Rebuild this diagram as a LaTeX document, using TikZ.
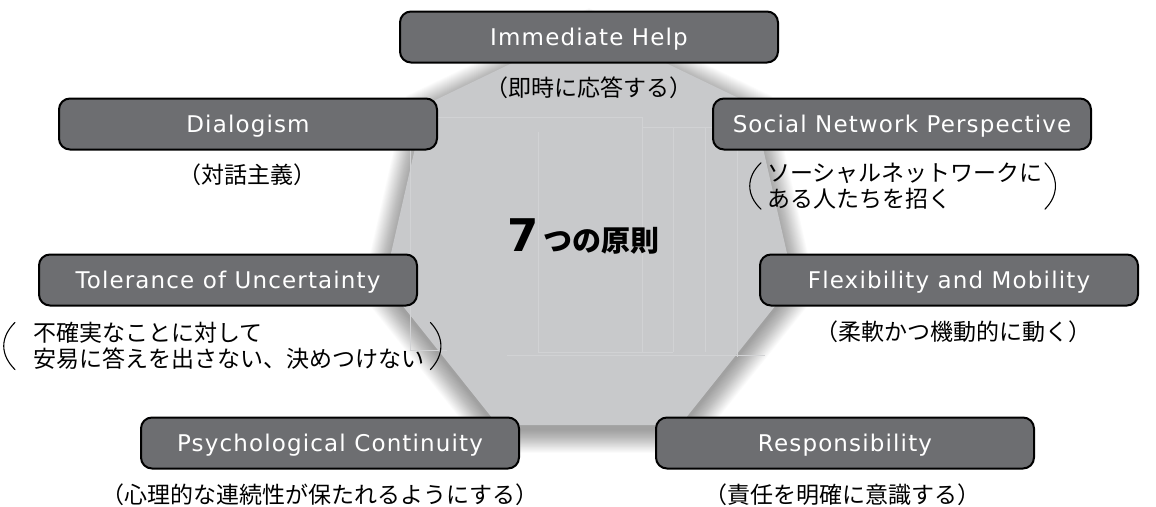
\documentclass[tikz,border=0pt]{standalone}
\usepackage{fontspec}
\setmainfont{DejaVu Sans}
\newfontfamily\eng{DejaVu Sans}[LetterSpace=5]
\newfontfamily\numfont{DejaVu Sans}
\newfontfamily\jp{Noto Sans CJK JP}
\newcommand\jlp{\makebox[0.5em][r]{（}}
\newcommand\jrp{\makebox[0.5em][l]{）}}
\newcommand\titletext{{\numfont\bfseries\fontsize{45}{45}\selectfont 7}\hspace{5pt}{\jp\bfseries\fontsize{29}{29}\selectfont つの原則}}
\definecolor{polyfill}{HTML}{C8C9CB}
\definecolor{boxgray}{HTML}{6D6E71}
\definecolor{faintline}{HTML}{D1D2D4}
\begin{document}
\begin{tikzpicture}[x=1pt,y=-1pt,
  principle/.style={draw=black, line width=2pt, rounded corners=11pt, fill=boxgray,
    text=white, minimum width=378pt, minimum height=51pt, inner sep=0pt,
    text height=16.8pt, text depth=0pt, font=\eng\fontsize{23}{23}\selectfont},
  jptext/.style={inner sep=0pt, text=black, font=\jp\fontsize{23}{25.5}\selectfont},
  paren/.style={draw=black, line width=1.1pt, line cap=round},
  faint/.style={draw=faintline, line width=0.7pt}]
\useasboundingbox (0,0) rectangle (1156,506);
\fill[white] (0,0) rectangle (1156,506);

% soft shadow around the heptagon
\foreach \r in {1,...,26}{
  \fill[black, opacity=0.014, shift={(589,242)}]
    (-90:{208+\r}) \foreach \k in {1,...,6}{ -- ({-90+\k*360/7}:{208+\r}) } -- cycle;
}
% heptagon
\fill[polyfill, shift={(589,236)}]
  (-90:210) \foreach \k in {1,...,6}{ -- ({-90+\k*360/7}:210) } -- cycle;

% faint lines inside
\draw[faint] (410,350) -- (410,117) -- (642,117) -- (642,352);
\draw[faint] (538,132) -- (538,352) -- (673,352);
\draw[faint] (642,127) -- (723,127);
\draw[faint] (673,127) -- (673,352);
\draw[faint] (705,127) -- (705,352);
\draw[faint] (737,127) -- (737,357);
\draw[faint] (507,355) -- (765,355);
\draw[faint] (410,350) -- (447,350);

% principle boxes
\node[principle] (ih) at (589,37) {Immediate Help};
\node[principle] (dia) at (248,124) {Dialogism};
\node[principle] (snp) at (902,124) {Social Network Perspective};
\node[principle] (tol) at (228,280) {Tolerance of Uncertainty};
\node[principle] (flex) at (949,280) {Flexibility and Mobility};
\node[principle] (psy) at (330,443) {Psychological Continuity};
\node[principle] (resp) at (845,443) {Responsibility};

% Japanese glosses
\node[jptext] (jih) at (589,88) {\jlp 即時に応答する\jrp};
\node[jptext] (jdia) at (247,175) {\jlp 対話主義\jrp};
\node[jptext, anchor=west, align=left] (jsnp) at (767,186) {ソーシャルネットワークに\\ある人たちを招く};
\node[jptext, anchor=west, align=left] (jtol) at (33,346) {不確実なことに対して\\安易に答えを出さない、決めつけない};
\node[jptext] (jflex) at (953,332) {\jlp 柔軟かつ機動的に動く\jrp};
\node[jptext] (jpsy) at (320,495) {\jlp 心理的な連続性が保たれるようにする\jrp};
\node[jptext] (jresp) at (842,495) {\jlp 責任を明確に意識する\jrp};

% tall parentheses
\draw[paren] ([xshift=-6pt]jsnp.north west) .. controls +(-15,14) and +(-15,-14) .. ([xshift=-6pt]jsnp.south west);
\draw[paren] ([xshift=2pt]jsnp.north east) .. controls +(14,14) and +(14,-14) .. ([xshift=2pt]jsnp.south east);
\draw[paren] ([xshift=-18pt]jtol.north west) .. controls +(-15,15) and +(-15,-15) .. ([xshift=-18pt]jtol.south west);
\draw[paren] ([xshift=6pt]jtol.north east) .. controls +(14,15) and +(14,-15) .. ([xshift=6pt]jtol.south east);

% title
\node[anchor=base west, inner sep=0pt, text=black] (title) at (507,251) {\titletext};
\end{tikzpicture}
\end{document}
